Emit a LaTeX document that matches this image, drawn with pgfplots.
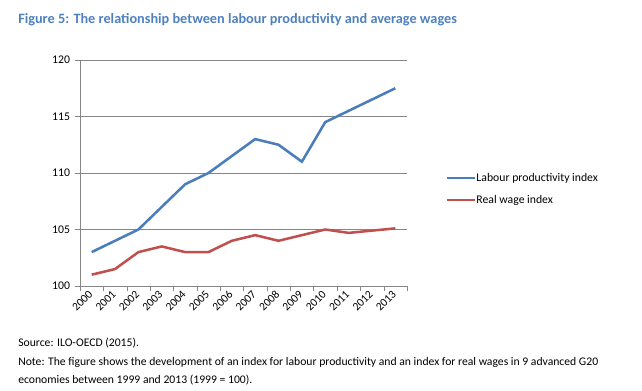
\documentclass[border=0pt]{standalone}
\usepackage{fontspec}
\setmainfont{Carlito}
\usepackage{pgfplots}
\pgfplotsset{compat=1.18}
\definecolor{tblue}{RGB}{79,129,189}
\definecolor{lblue}{RGB}{74,126,187}
\definecolor{lred}{RGB}{192,80,77}
\definecolor{gridc}{RGB}{134,134,134}
\begin{document}
\begin{tikzpicture}
\path[use as bounding box] (0,0) rectangle (481.5pt,293.25pt);
\begin{axis}[
  at={(60pt,78.75pt)}, anchor=south west,
  scale only axis, width=245.25pt, height=169.5pt,
  xmin=-0.5, xmax=13.5, ymin=100, ymax=120,
  axis x line*=bottom, axis y line*=left,
  axis line style={gridc, -},
  xtick={0,...,13},
  xticklabels={2000,2001,2002,2003,2004,2005,2006,2007,2008,2009,2010,2011,2012,2013},
  minor xtick={-0.5,0.5,...,13.5},
  major x tick style={draw=none},
  minor x tick style={gridc},
  minor tick length=4pt,
  ytick={100,105,...,120},
  y tick style={gridc},
  major tick length=4pt,
  tick align=outside,
  ymajorgrids, grid style={gridc, line width=0.6pt},
  x tick label style={rotate=45, anchor=east, font=\fontsize{8.6}{9}\selectfont, inner sep=1pt},
  y tick label style={font=\fontsize{8.8}{9}\selectfont},
  /pgf/number format/assume math mode=true,
  legend style={at={(1.104,0.429)}, anchor=west, draw=none, fill=none,
    font=\fontsize{8.8}{10}\selectfont, row sep=8pt,
    /tikz/every node/.append style={inner sep=0.5pt}},
  legend cell align=left,
  legend image code/.code={\draw[#1] (0pt,0pt) -- (21pt,0pt);},
]
\addplot[lblue, line width=1.9pt] coordinates {
(0,103) (1,104) (2,105) (3,107) (4,109) (5,110) (6,111.5) (7,113)
(8,112.5) (9,111) (10,114.5) (11,115.5) (12,116.5) (13,117.5)};
\addlegendentry{Labour productivity index}
\addplot[lred, line width=1.9pt] coordinates {
(0,101) (1,101.5) (2,103) (3,103.5) (4,103) (5,103) (6,104) (7,104.5)
(8,104) (9,104.5) (10,105) (11,104.7) (12,104.9) (13,105.1)};
\addlegendentry{Real wage index}
\end{axis}
\node[anchor=base west, inner sep=0pt, text=tblue, font=\bfseries\fontsize{10.7}{12}\selectfont] at (13.5pt,275.25pt) {Figure 5: The relationship between labour productivity and average wages};
\node[anchor=base west, inner sep=0pt, font=\fontsize{8.75}{10}\selectfont] at (13.5pt,33pt) {Source: ILO-OECD (2015).};
\node[anchor=base west, inner sep=0pt, font=\fontsize{8.75}{10}\selectfont] at (13.5pt,18.75pt) {Note: The figure shows the development of an index for labour productivity and an index for real wages in 9 advanced G20};
\node[anchor=base west, inner sep=0pt, font=\fontsize{8.75}{10}\selectfont] at (13.5pt,5.25pt) {economies between 1999 and 2013 (1999 = 100).};
\end{tikzpicture}
\end{document}
